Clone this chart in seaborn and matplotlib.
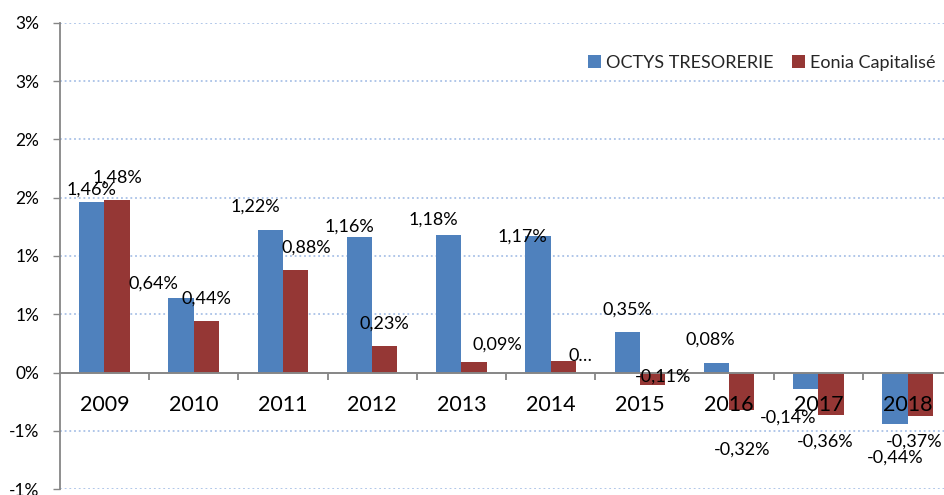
import numpy as np
import pandas as pd
import matplotlib
matplotlib.use("Agg")
import matplotlib.pyplot as plt
import seaborn as sns
from matplotlib.ticker import FixedLocator

# ---------------- data ----------------
years = ["2009", "2010", "2011", "2012", "2013", "2014", "2015", "2016", "2017", "2018"]
series_names = ["OCTYS TRESORERIE", "Eonia Capitalisé"]
octys = [1.46, 0.64, 1.22, 1.16, 1.18, 1.17, 0.35, 0.08, -0.14, -0.44]
eonia = [1.48, 0.44, 0.88, 0.23, 0.09, 0.10, -0.11, -0.32, -0.36, -0.37]
ytick_values = [-1.0, -0.5, 0.0, 0.5, 1.0, 1.5, 2.0, 2.5, 3.0]
ytick_labels = ["-1%", "-1%", "0%", "1%", "1%", "2%", "2%", "3%", "3%"]
label_overrides = {("Eonia Capitalisé", "2014"): "0…"}

# ---------------- label placement (pixels: dx, dy up from bar end) ----------------
octys_offsets = [(0, 14), (-28, 16), (-14.5, 25.5), (-10.5, 12.5), (-15.5, 16.5),
                 (-16, 1.5), (0, 24), (-6, 25), (-18, -27), (0, -32)]
eonia_offsets = [(0, 24), (0, 24.5), (11, 23.5), (0, 24), (23.5, 19),
                 (17, 6.5), (11, 10.5), (0, -38), (-6, -26), (-6, -24)]

colors = ["#4F81BD", "#953735"]
grey = "#868686"
grid_color = "#A9C1E7"

sns.set_theme(style="white")
plt.rcParams["font.family"] = ["Lato", "DejaVu Sans"]
plt.rcParams["axes.axisbelow"] = False

W, H = 945, 495
fig = plt.figure(figsize=(W / 100, H / 100), dpi=100)
ax = fig.add_axes([59.75 / W, (H - 489.3) / H, 892.5 / W, 466.6 / H])

df = pd.DataFrame({
    "Année": years * 2,
    "Série": [series_names[0]] * len(years) + [series_names[1]] * len(years),
    "Valeur": octys + eonia,
})

sns.barplot(data=df, x="Année", y="Valeur", hue="Série", hue_order=series_names,
            palette=colors, width=0.567, gap=0, errorbar=None, saturation=1,
            linewidth=0, ax=ax, zorder=1)

ax.set_axisbelow(False)
ax.set_xlim(-0.5, 9.5)
ax.set_ylim(-1.0, 3.0)
ax.set_xlabel("")
ax.set_ylabel("")

# y axis + dotted gridlines drawn behind the bars
ax.set_yticks(ytick_values, ytick_labels)
ax.yaxis.grid(False)
ax.xaxis.grid(False)
for v in ytick_values:
    if v != 0:
        ax.axhline(v, color=grid_color, linestyle=(0, (1, 1.6)), linewidth=1.3,
                   zorder=0.5)
ax.tick_params(axis="y", left=True, length=4.8, width=1.0, color=grey,
               direction="out", pad=10, labelsize=12.5, labelcolor="black")

# spines
for s in ["top", "right"]:
    ax.spines[s].set_visible(False)
ax.spines["left"].set_color(grey)
ax.spines["left"].set_linewidth(1.3)
ax.spines["bottom"].set_position(("data", 0))
ax.spines["bottom"].set_color(grey)
ax.spines["bottom"].set_linewidth(1.4)

# x axis
ax.xaxis.set_minor_locator(FixedLocator(np.arange(0.5, 9.5, 1.0)))
ax.tick_params(axis="x", which="major", bottom=True, length=0, pad=16,
               labelsize=15.5, labelcolor="black")
ax.tick_params(axis="x", which="minor", bottom=True, length=5, width=1.3,
               color=grey, direction="out")

# data labels
label_size = 13
cap_px = label_size * 100 / 72 * 0.717
for cont, name, offsets in zip(ax.containers, series_names, [octys_offsets, eonia_offsets]):
    for patch, year, (dx, dy) in zip(cont.patches, years, offsets):
        xc = patch.get_x() + patch.get_width() / 2
        val = patch.get_y() + patch.get_height()
        if abs(patch.get_y()) > 1e-9:
            val = patch.get_y()
        txt = label_overrides.get((name, year),
                                  f"{val:.2f}".replace(".", ",") + "%")
        ax.annotate(txt, xy=(xc, val), xytext=(dx, dy - cap_px / 2),
                    textcoords="offset pixels", ha="center", va="baseline",
                    fontsize=label_size, color="black", annotation_clip=False,
                    zorder=4)

# legend
handles, labels = ax.get_legend_handles_labels()
if ax.get_legend() is not None:
    ax.get_legend().remove()
fig.legend(handles, labels, loc="center right",
           bbox_to_anchor=(936 / W, (H - 63) / H), bbox_transform=fig.transFigure,
           ncol=2, frameon=False, fontsize=13, handlelength=0.7, handleheight=0.7,
           handletextpad=0.3, columnspacing=1.05, borderpad=0, borderaxespad=0)

fig.savefig("out.png", dpi=100)
